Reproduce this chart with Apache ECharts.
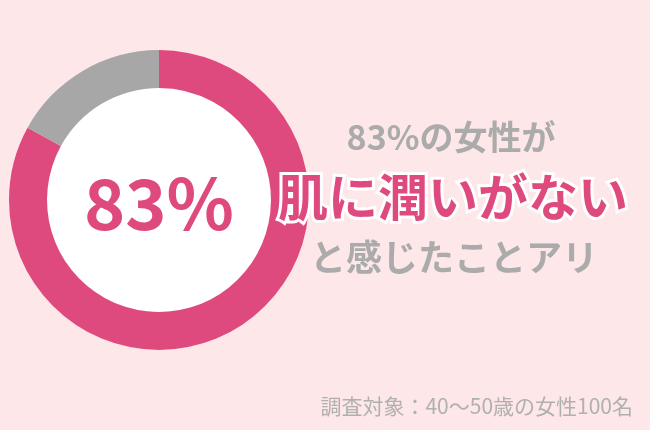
<!DOCTYPE html>
<html><head><meta charset="utf-8">
<script src="https://cdn.jsdelivr.net/npm/echarts@6/dist/echarts.min.js"></script>
<style>html,body{margin:0;padding:0;background:#fde7e8;}#c{width:650px;height:430px;}</style>
</head><body><div id="c"></div>
<script>
const categories = ['肌に潤いがない', 'その他'];
const values = [83, 17];
const headline = ['83%の女性が', '肌に潤いがない', 'と感じたことアリ'];
const note = '調査対象：40〜50歳の女性100名';

const FONT = '"Noto Sans CJK JP", "Noto Sans", sans-serif';
const chart = echarts.init(document.getElementById('c'));
chart.setOption({
  backgroundColor: '#fde7e8',
  animation: false,
  series: [
    {
      type: 'pie', center: [159, 200], radius: [0, 112], silent: true, z: 1,
      label: { show: false }, labelLine: { show: false },
      itemStyle: { color: '#ffffff' }, data: [{ value: 1, name: 'bg' }]
    },
    {
      type: 'pie', center: [159, 200], radius: [112, 150], startAngle: 90, clockwise: true, z: 1,
      silent: true, label: { show: false }, labelLine: { show: false },
      data: categories.map((n, i) => ({ name: n, value: values[i],
        itemStyle: { color: i === 0 ? '#df4a7e' : '#a7a7a7' } }))
    }
  ],
  graphic: { elements: [
    { type: 'text', x: 159, y: 203, z: 100, style: { text: values[0] + '%', textAlign: 'center', textVerticalAlign: 'middle',
      font: 'bold 70px ' + FONT, fill: '#df4a7e' } },
    { type: 'text', x: 451, y: 137, z: 100, style: { text: headline[0], textAlign: 'center', textVerticalAlign: 'middle',
      font: 'bold 34px ' + FONT, fill: '#ababab' } },
    { type: 'text', x: 453, y: 197, z: 100, style: { text: headline[1], textAlign: 'center', textVerticalAlign: 'middle',
      font: 'bold 50px ' + FONT, fill: '#df4a7e', stroke: '#ffffff', lineWidth: 6 } },
    { type: 'text', x: 454, y: 257, z: 100, style: { text: headline[2], textAlign: 'center', textVerticalAlign: 'middle',
      font: 'bold 36px ' + FONT, fill: '#ababab' } },
    { type: 'text', x: 633, y: 406, z: 100, style: { text: note, textAlign: 'right', textVerticalAlign: 'middle',
      font: '21px ' + FONT, fill: '#b0b0b0' } }
  ] }
});
</script></body></html>
